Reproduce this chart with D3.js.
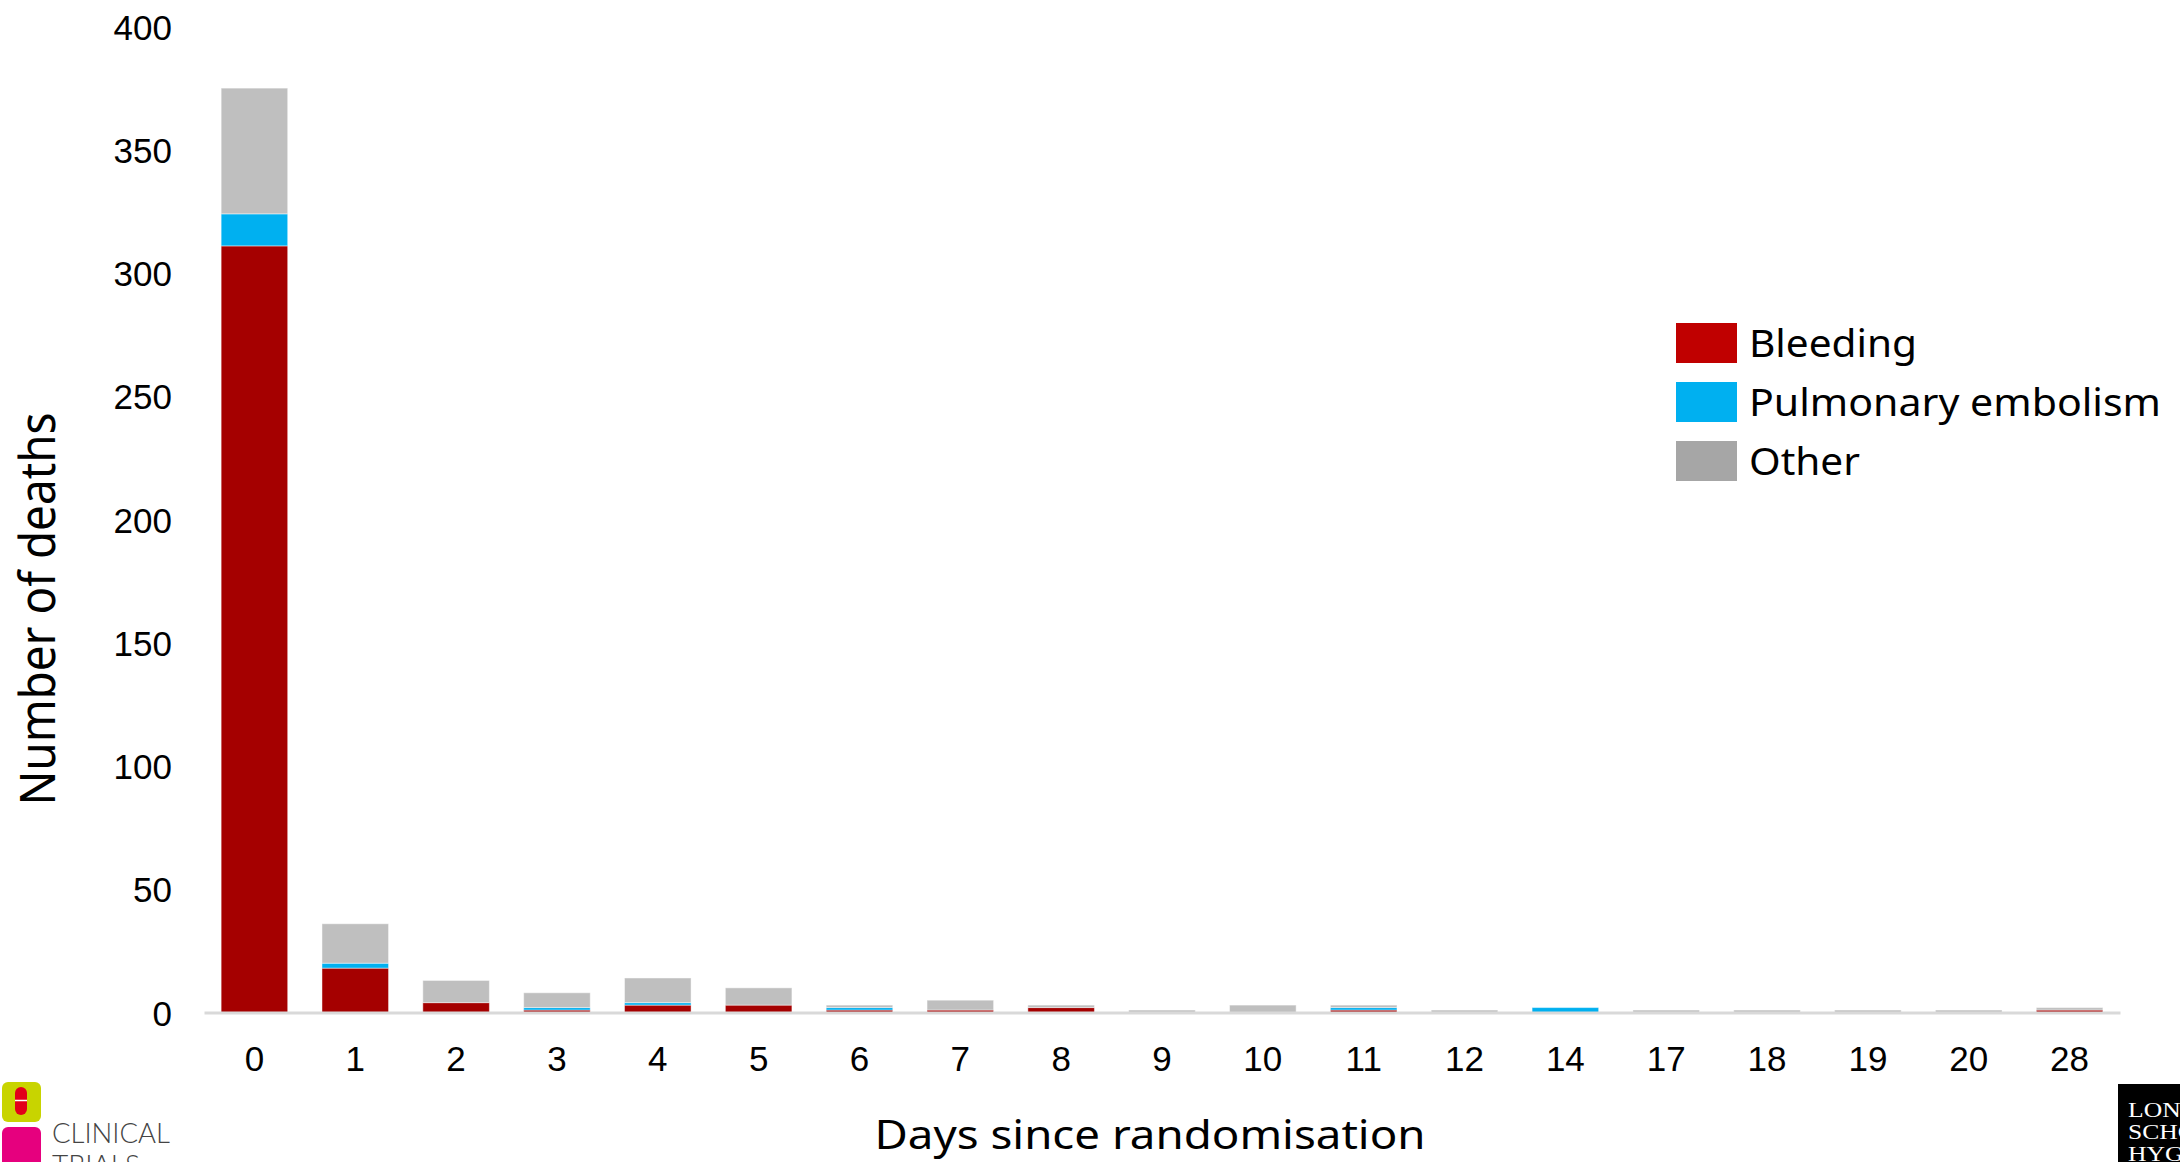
<!DOCTYPE html>
<html>
<head>
<meta charset="utf-8">
<script src="https://cdn.jsdelivr.net/npm/d3@7"></script>
<style>
  html, body { margin: 0; padding: 0; background: #fff; }
  svg { display: block; }
</style>
</head>
<body>
<svg id="chart" width="2180" height="1162"></svg>
<script>
// ---- data ----
const days = ["0","1","2","3","4","5","6","7","8","9","10","11","12","14","17","18","19","20","28"];
const bleeding = [311, 18, 4, 1, 3, 3, 1, 1, 2, 0, 0, 1, 0, 0, 0, 0, 0, 0, 1];
const pulmonaryEmbolism = [13, 2, 0, 1, 1, 0, 1, 0, 0, 0, 0, 1, 0, 2, 0, 0, 0, 0, 0];
const other = [51, 16, 9, 6, 10, 7, 1, 4, 1, 1, 3, 1, 1, 0, 1, 1, 1, 1, 1];
const yTicks = [0, 50, 100, 150, 200, 250, 300, 350, 400];
const seriesNames = ["Bleeding", "Pulmonary embolism", "Other"];
const barColors = ["#A50000", "#00B0F0", "#BFBFBF"];
const legendColors = ["#C00000", "#00B0F0", "#A6A6A6"];

const svg = d3.select("#chart");

const x = d3.scaleBand().domain(days).range([204, 2120]).paddingInner(0.34).paddingOuter(0.17);
const y = d3.scaleLinear().domain([0, 400]).range([1012.5, 26.5]);

const table = days.map((d, i) => ({ day: d, Bleeding: bleeding[i], "Pulmonary embolism": pulmonaryEmbolism[i], Other: other[i] }));
const stacked = d3.stack().keys(seriesNames)(table);

// bars
svg.append("g").selectAll("g").data(stacked).join("g")
  .attr("fill", (d, i) => barColors[i])
  .selectAll("rect").data(d => d).join("rect")
  .attr("x", d => x(d.data.day))
  .attr("width", x.bandwidth())
  .attr("y", d => y(d[1]))
  .attr("height", d => Math.max(0, y(d[0]) - y(d[1])))
  .attr("stroke", "#ffffff")
  .attr("stroke-opacity", 0.45)
  .attr("stroke-width", 1);

// x axis
const xAxis = svg.append("g").attr("transform", "translate(0,1012.5)")
  .call(d3.axisBottom(x).tickSize(0).tickSizeOuter(0).tickPadding(28));
xAxis.select(".domain").attr("stroke", "#D9D9D9").attr("stroke-width", 3);
xAxis.selectAll("text").attr("font-family", "'Liberation Sans', Arial, sans-serif")
  .attr("font-size", 35).attr("fill", "#000").attr("dy", 0).attr("y", 58.5);

// y axis
const yAxis = svg.append("g").attr("transform", "translate(172,0)")
  .call(d3.axisLeft(y).tickValues(yTicks).tickSize(0).tickPadding(0));
yAxis.select(".domain").remove();
yAxis.selectAll("text").attr("font-family", "'Liberation Sans', Arial, sans-serif")
  .attr("font-size", 35).attr("fill", "#000").attr("dy", "0.36em");

// axis titles
svg.append("text")
  .attr("transform", "translate(55,609) rotate(-90)")
  .attr("text-anchor", "middle")
  .attr("font-family", "'Noto Sans', 'Open Sans', sans-serif")
  .attr("font-size", 49)
  .attr("textLength", 393).attr("lengthAdjust", "spacingAndGlyphs")
  .attr("fill", "#000")
  .text("Number of deaths");

svg.append("text")
  .attr("x", 1150).attr("y", 1149)
  .attr("text-anchor", "middle")
  .attr("font-family", "'Noto Sans', 'Open Sans', sans-serif")
  .attr("font-size", 40)
  .attr("textLength", 551).attr("lengthAdjust", "spacingAndGlyphs")
  .attr("fill", "#000")
  .text("Days since randomisation");

// legend
const legendLens = [168, 412, 111];
const legend = svg.append("g");
seriesNames.forEach((name, i) => {
  const top = 323 + i * 59;
  legend.append("rect").attr("x", 1676).attr("y", top).attr("width", 61).attr("height", 40)
    .attr("fill", legendColors[i]);
  legend.append("text").attr("x", 1749).attr("y", top + 34)
    .attr("font-family", "'Noto Sans', 'Open Sans', sans-serif")
    .attr("font-size", 39)
    .attr("textLength", legendLens[i]).attr("lengthAdjust", "spacingAndGlyphs")
    .attr("fill", "#000")
    .text(name);
});

// left logo (Clinical Trials)
const logoL = svg.append("g");
logoL.append("rect").attr("x", 2).attr("y", 1082).attr("width", 39).attr("height", 40).attr("rx", 6).attr("fill", "#C8D400");
logoL.append("rect").attr("x", 15).attr("y", 1087).attr("width", 12).attr("height", 28).attr("rx", 6).attr("fill", "#E2001A");
logoL.append("line").attr("x1", 15).attr("x2", 27).attr("y1", 1100.5).attr("y2", 1100.5).attr("stroke", "#fff").attr("stroke-width", 1.5);
logoL.append("rect").attr("x", 2).attr("y", 1127).attr("width", 39).attr("height", 45).attr("rx", 6).attr("fill", "#E6007E");
logoL.append("text").attr("x", 52).attr("y", 1143)
  .attr("font-family", "Lato, 'Liberation Sans', sans-serif").attr("font-weight", 300)
  .attr("font-size", 28).attr("fill", "#444")
  .attr("textLength", 118).attr("lengthAdjust", "spacingAndGlyphs")
  .text("CLINICAL");
logoL.append("text").attr("x", 52).attr("y", 1175)
  .attr("font-family", "Lato, 'Liberation Sans', sans-serif").attr("font-weight", 300)
  .attr("font-size", 28).attr("fill", "#444")
  .text("TRIALS");

// right logo (LSHTM)
const logoR = svg.append("g");
logoR.append("rect").attr("x", 2118).attr("y", 1084).attr("width", 62).attr("height", 78).attr("fill", "#000");
["LONDON", "SCHOOL", "HYGIENE"].forEach((t, i) => {
  logoR.append("text")
    .attr("transform", `translate(2128,${1117 + i * 22}) scale(1.22,1)`)
    .attr("font-family", "'Liberation Serif', 'DejaVu Serif', serif")
    .attr("font-size", 21).attr("fill", "#fff").text(t);
});
</script>
</body>
</html>
